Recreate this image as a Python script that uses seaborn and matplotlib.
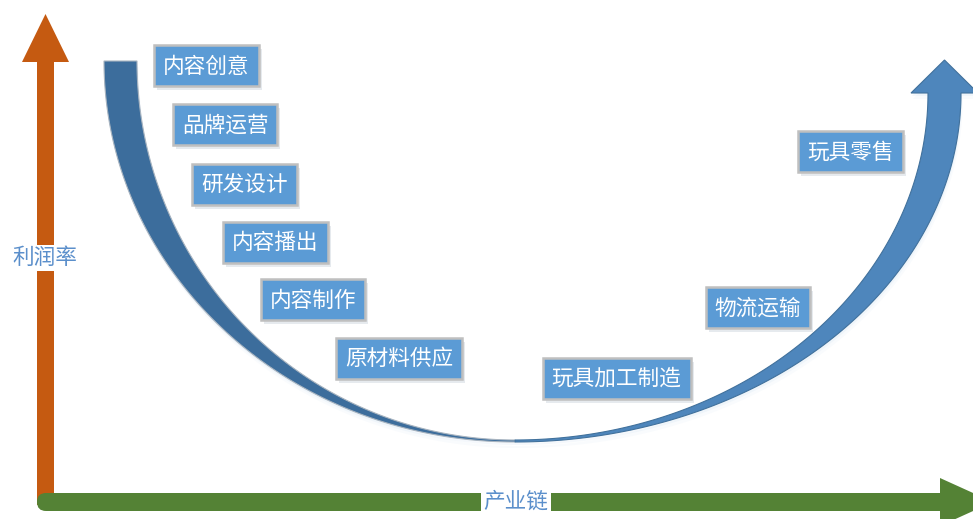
import numpy as np
import matplotlib
matplotlib.use("Agg")
import matplotlib.pyplot as plt
from matplotlib.patches import Rectangle, FancyBboxPatch
import seaborn as sns

# --- chart content ---
stages = ["内容创意", "品牌运营", "研发设计", "内容播出", "内容制作",
          "原材料供应", "玩具加工制造", "物流运输", "玩具零售"]
# box centres in pixel space (x right, y down)
stage_x = [206.5, 225, 244.5, 275.5, 313, 399, 616.5, 758, 850.5]
stage_y = [65.5, 124.5, 184, 242, 299.5, 358, 378, 307.5, 151.5]
y_label = "利润率"
x_label = "产业链"

W, H = 973, 519
FS = 15.6                    # font size in pt
CHAR_W = FS * 100 / 72       # CJK glyph width in px
BOX_H = 41
BOX_PAD = 9

sns.set_theme(style="white")
plt.rcParams["font.family"] = ["Noto Sans CJK SC", "DejaVu Sans"]

fig = plt.figure(figsize=(W / 100, H / 100), dpi=100)
ax = fig.add_axes([0, 0, 1, 1])
ax.set_xlim(0, W)
ax.set_ylim(H, 0)
ax.axis("off")

# --- axes arrows ---
orange = "#C55A11"
green = "#548235"
ax.fill([37, 54, 54, 69, 45.5, 22, 37], [505, 505, 62, 62, 14, 62, 62],
        color=orange, zorder=1, lw=0)
ax.add_patch(FancyBboxPatch((37, 493), 920, 18, boxstyle="round,pad=0,rounding_size=9",
                            color=green, lw=0, zorder=2))
ax.fill([940, 940, 993, 940], [478, 526, 502, 478], color=green, lw=0, zorder=2)

# --- smile curve: left descending crescent ---
t = np.linspace(0, np.pi / 2, 150)
lo_x = 515 - 411 * np.sin(t)
lo_y = 61 + 381 * np.cos(t)
li_x = 515 - 378 * np.sin(t)
li_y = 61 + 379 * np.cos(t)
left_x = np.concatenate([lo_x, li_x[::-1]])
left_y = np.concatenate([lo_y, li_y[::-1]])

# right ascending crescent with arrow head
ro_x = 515 + 446 * np.sin(t)
ro_y = 93 + 349 * np.cos(t)
ri_x = 515 + 413 * np.sin(t)
ri_y = 93 + 347 * np.cos(t)
head_x = [978, 944.5, 911]
head_y = [93, 60, 93]
right_x = np.concatenate([ro_x, head_x, ri_x[::-1]])
right_y = np.concatenate([ro_y, head_y, ri_y[::-1]])

# soft glow
for k, a in [(6, 0.06), (3, 0.10)]:
    ax.fill(left_x + k * 0.3, left_y + k, color="#9DC3E6", alpha=a, lw=0, zorder=3)
    ax.fill(right_x + k * 0.3, right_y + k, color="#9DC3E6", alpha=a, lw=0, zorder=3)

ax.fill(left_x, left_y, color="#3C6D9C", lw=0.8, ec="#A8B4C0", zorder=4)
ax.fill(right_x, right_y, color="#4E86BC", lw=0.8, ec="#41719C", zorder=4)

# --- stage boxes ---
for label, x, y in zip(stages, stage_x, stage_y):
    w = len(label) * CHAR_W + 2 * BOX_PAD
    ax.add_patch(Rectangle((x - w / 2 + 3, y - BOX_H / 2 + 4), w, BOX_H,
                           color="#D6DCE4", alpha=0.6, lw=0, zorder=5))
    ax.add_patch(Rectangle((x - w / 2, y - BOX_H / 2), w, BOX_H,
                           fc="#5B9BD5", ec="#BFBFBF", lw=1.8, zorder=6))
    ax.text(x, y + 1, label, color="white", fontsize=FS, fontweight="light",
            ha="center", va="center", zorder=7)

# --- axis titles ---
ax.text(45, 258, y_label, color="#5B8FCB", fontsize=FS, fontweight="light",
        ha="center", va="center", zorder=8,
        bbox=dict(boxstyle="square,pad=0.1", fc="white", ec="none"))
ax.text(516, 502, x_label, color="#5B8FCB", fontsize=FS, fontweight="light",
        ha="center", va="center", zorder=8,
        bbox=dict(boxstyle="square,pad=0.1", fc="white", ec="none"))

fig.savefig("out.png", dpi=100)
